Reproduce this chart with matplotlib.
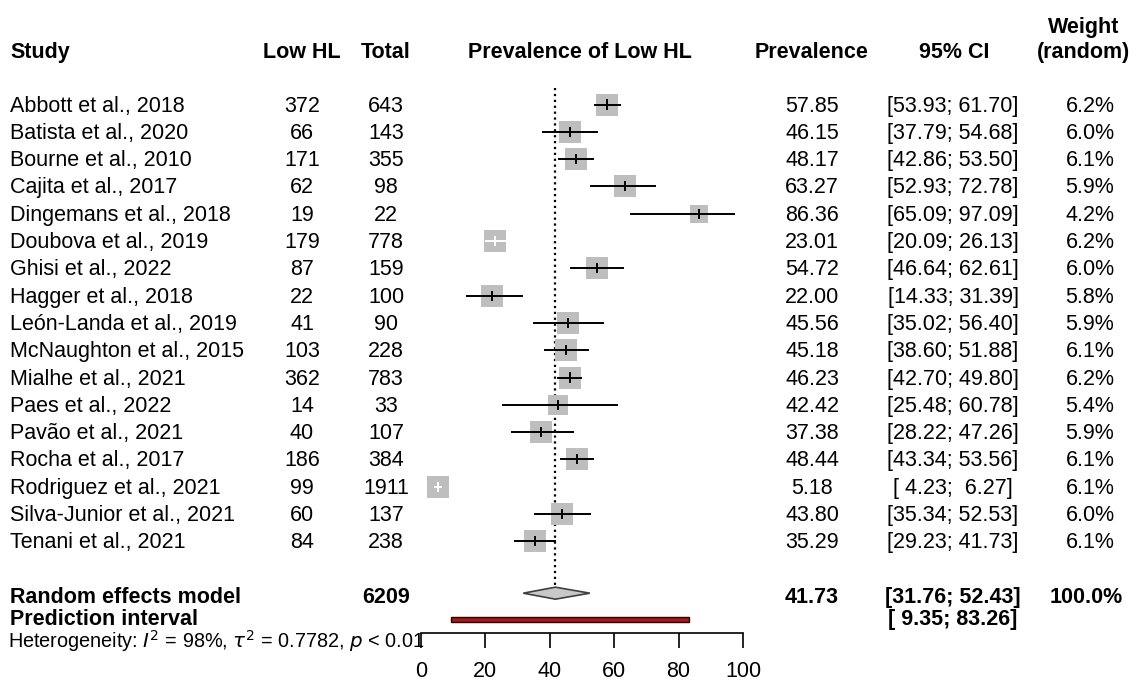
import numpy as np
import matplotlib.pyplot as plt
from matplotlib import transforms
from matplotlib.patches import Polygon, Rectangle

plt.rcParams['font.family'] = ['Liberation Sans', 'DejaVu Sans']

studies = ['Abbott et al., 2018', 'Batista et al., 2020', 'Bourne et al., 2010',
           'Cajita et al., 2017', 'Dingemans et al., 2018', 'Doubova et al., 2019',
           'Ghisi et al., 2022', 'Hagger et al., 2018', 'León-Landa et al., 2019',
           'McNaughton et al., 2015', 'Mialhe et al., 2021', 'Paes et al., 2022',
           'Pavão et al., 2021', 'Rocha et al., 2017', 'Rodriguez et al., 2021',
           'Silva-Junior et al., 2021', 'Tenani et al., 2021']
low_hl = [372, 66, 171, 62, 19, 179, 87, 22, 41, 103, 362, 14, 40, 186, 99, 60, 84]
total = [643, 143, 355, 98, 22, 778, 159, 100, 90, 228, 783, 33, 107, 384, 1911, 137, 238]
prev = [57.85, 46.15, 48.17, 63.27, 86.36, 23.01, 54.72, 22.00, 45.56, 45.18,
        46.23, 42.42, 37.38, 48.44, 5.18, 43.80, 35.29]
ci_lo = [53.93, 37.79, 42.86, 52.93, 65.09, 20.09, 46.64, 14.33, 35.02, 38.60,
         42.70, 25.48, 28.22, 43.34, 4.23, 35.34, 29.23]
ci_hi = [61.70, 54.68, 53.50, 72.78, 97.09, 26.13, 62.61, 31.39, 56.40, 51.88,
         49.80, 60.78, 47.26, 53.56, 6.27, 52.53, 41.73]
weight = [6.2, 6.0, 6.1, 5.9, 4.2, 6.2, 6.0, 5.8, 5.9, 6.1, 6.2, 5.4, 5.9, 6.1, 6.1, 6.0, 6.1]

total_n = 6209
re_est, re_lo, re_hi = 41.73, 31.76, 52.43
pi_lo, pi_hi = 9.35, 83.26
het_text = r'Heterogeneity: $I^2$ = 98%, $\tau^2$ = 0.7782, $p$ < 0.01'

W, H = 1136, 683
fig = plt.figure(figsize=(W / 100, H / 100), dpi=100)
ax = fig.add_axes([421 / W, (H - 633) / H, 322 / W, 633 / H])
row0, dr = 104.5, 27.3
ax.set_xlim(0, 100)
ax.set_ylim((633 - row0) / dr, -row0 / dr)

for s in ['top', 'left', 'right']:
    ax.spines[s].set_visible(False)
ax.spines['bottom'].set_linewidth(1.2)
ax.set_yticks([])
ax.set_xticks(range(0, 101, 20))
ax.tick_params(axis='x', direction='out', length=10.5, width=1.2, labelsize=15.5, pad=10)

tr = transforms.blended_transform_factory(fig.transFigure, ax.transData)
FS = 15.5
BASE = 0.26


def put(px, row, s, ha='center', bold=False, size=FS):
    ax.text(px / W, row + BASE, s, transform=tr, ha=ha, va='baseline',
            fontsize=size, fontweight='bold' if bold else 'normal')


# header
hdr = -1.96
put(10, hdr, 'Study', 'left', True)
put(302, hdr, 'Low HL', bold=True)
put(386, hdr, 'Total', bold=True)
put(580, hdr, 'Prevalence of Low HL', bold=True)
put(812, hdr, 'Prevalence', bold=True)
put(954, hdr, '95% CI', bold=True)
put(1084, -2.88, 'Weight', bold=True)
put(1084, hdr, '(random)', bold=True)

rows = np.arange(len(studies))
grey = '#bebebe'
for i in rows:
    put(10, i, studies[i], 'left')
    put(302, i, str(low_hl[i]))
    put(386, i, str(total[i]))
    put(812, i, f'{prev[i]:.2f}')
    put(953, i, f'[{ci_lo[i]:5.2f}; {ci_hi[i]:5.2f}]')
    put(1090, i, f'{weight[i]:.1f}%')

    side = 22 * np.sqrt(weight[i] / 6.2)
    ax.scatter(prev[i], i, marker='s', s=(side * 0.72) ** 2, color=grey,
               linewidths=0, zorder=2)
    # CI drawn white when it fits inside the square
    half_w = side / 2 / 3.22
    inside = (prev[i] - ci_lo[i] < half_w) and (ci_hi[i] - prev[i] < half_w)
    lc = 'white' if inside else 'black'
    ax.plot([ci_lo[i], ci_hi[i]], [i, i], color=lc, lw=1.4, zorder=3)
    ax.plot([prev[i], prev[i]], [i - 0.15, i + 0.15], color=lc, lw=1.4, zorder=3)

# summary
srow, prow = 17.9, 18.85
put(10, 18.0, 'Random effects model', 'left', True)
put(386, 18.0, str(total_n), bold=True)
put(812, 18.0, f'{re_est:.2f}', bold=True)
put(953, 18.0, f'[{re_lo:5.2f}; {re_hi:5.2f}]', bold=True)
put(1086, 18.0, '100.0%', bold=True)
put(10, 18.8, 'Prediction interval', 'left', True)
put(953, 18.8, f'[{pi_lo:5.2f}; {pi_hi:5.2f}]', bold=True)

dh = 0.22
ax.add_patch(Polygon([(re_lo, srow), (re_est, srow - dh), (re_hi, srow), (re_est, srow + dh)],
                     closed=True, facecolor='#c8c8c8', edgecolor='#404040', lw=1.2, zorder=3))
ax.plot([re_est, re_est], [-0.6, srow - dh], ':', color='black', lw=1.6, zorder=1)
ax.add_patch(Rectangle((pi_lo, prow - 0.095), pi_hi - pi_lo, 0.19,
                       facecolor='#9b1b1f', edgecolor='#300000', lw=1.0, zorder=3))

ax.text(8 / W, 19.65 + BASE, het_text, transform=tr, ha='left', va='baseline', fontsize=14.3)

fig.savefig('out.png', dpi=100)
